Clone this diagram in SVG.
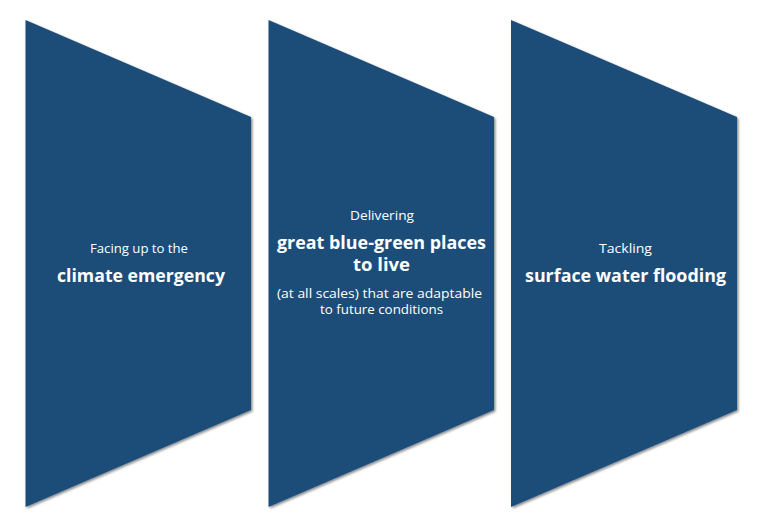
<svg xmlns="http://www.w3.org/2000/svg" width="758" height="526" viewBox="0 0 758 526">
  <defs>
    <filter id="sh" x="-5%" y="-5%" width="110%" height="110%">
      <feDropShadow dx="1.5" dy="1.5" stdDeviation="1" flood-color="#000" flood-opacity="0.45"/>
    </filter>
  </defs>
  <style>
    .shape { fill: #1F4E79; filter: url(#sh); }
    .sm { fill: #FFFFFF; font-family: "Open Sans", "Liberation Sans", sans-serif; font-size: 12.5px; text-anchor: middle; }
    .bg { fill: #FFFFFF; font-family: "Open Sans", "Liberation Sans", sans-serif; font-size: 18px; font-weight: bold; text-anchor: middle; }
  </style>
  <rect width="758" height="526" fill="#FFFFFF"/>
  <g id="node-climate">
    <polygon class="shape" points="25.5,20 251,117 251,410 25.5,507"/>
    <text class="sm" x="139" y="252.5" textLength="98" lengthAdjust="spacingAndGlyphs">Facing up to the</text>
    <text class="bg" x="141" y="281.5" textLength="168" lengthAdjust="spacingAndGlyphs">climate emergency</text>
  </g>
  <g id="node-places">
    <polygon class="shape" points="268.5,20 494,117 494,410 268.5,507"/>
    <text class="sm" x="382" y="220" textLength="64" lengthAdjust="spacingAndGlyphs">Delivering</text>
    <text class="bg" x="381.5" y="249" textLength="209" lengthAdjust="spacingAndGlyphs">great blue-green places</text>
    <text class="bg" x="381.5" y="271" textLength="57" lengthAdjust="spacingAndGlyphs">to live</text>
    <text class="sm" x="379.5" y="298" textLength="205" lengthAdjust="spacingAndGlyphs">(at all scales) that are adaptable</text>
    <text class="sm" x="381.5" y="314" textLength="123" lengthAdjust="spacingAndGlyphs">to future conditions</text>
  </g>
  <g id="node-flooding">
    <polygon class="shape" points="511,20 737,117 737,410 511,507"/>
    <text class="sm" x="625.5" y="253" textLength="53" lengthAdjust="spacingAndGlyphs">Tackling</text>
    <text class="bg" x="625.5" y="281.5" textLength="201" lengthAdjust="spacingAndGlyphs">surface water flooding</text>
  </g>
  <g id="connectors"></g>
</svg>
